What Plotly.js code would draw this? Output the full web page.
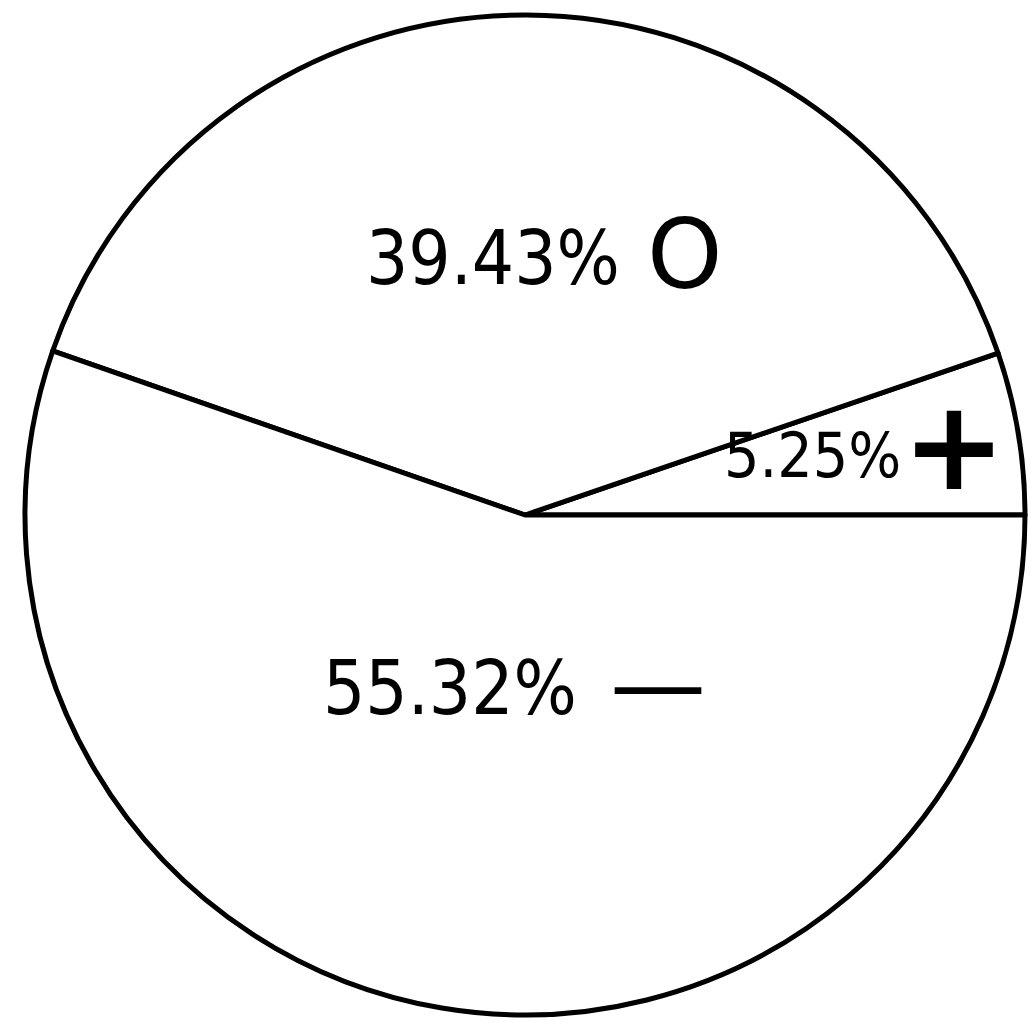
<!DOCTYPE html>
<html>
<head>
<meta charset="utf-8">
<script src="https://cdn.plot.ly/plotly-3.0.1.min.js"></script>
<style>
  body { margin: 0; background: #fff; }
  #chart { width: 1035px; height: 1023px; }
</style>
</head>
<body>
<div id="chart"></div>
<script>
// slices go counterclockwise starting at 3 o'clock
var signs = ['+', 'O', '—'];
var shares = [5.25, 39.43, 55.32];

// where the hand lettering sits (paper coords), and sizes
var pctPos = [[0.787, 0.559], [0.468, 0.757], [0.425, 0.327]];
var signPos = [[0.929, 0.569], [0.660, 0.760], [0.633, 0.331]];
var pctSize = [62, 74, 74];
var signSize = [124, 96, 96];

var trace = {
  type: 'pie',
  values: shares,
  labels: signs,
  sort: false,
  direction: 'counterclockwise',
  rotation: 90 - shares[0] * 3.6,
  textinfo: 'none',
  marker: {
    colors: ['#fff', '#fff', '#fff'],
    line: { color: '#000', width: 5 }
  },
  hoverinfo: 'skip',
  showlegend: false
};

var annotations = [];
shares.forEach((s, i) => {
  annotations.push({
    xref: 'paper', yref: 'paper',
    x: pctPos[i][0], y: pctPos[i][1],
    xanchor: 'center', yanchor: 'middle',
    text: s.toFixed(2) + '%',
    showarrow: false,
    font: { family: 'Liberation Sans Narrow, DejaVu Sans Condensed', size: pctSize[i], color: '#000' }
  });
  annotations.push({
    xref: 'paper', yref: 'paper',
    x: signPos[i][0], y: signPos[i][1],
    xanchor: 'center', yanchor: 'middle',
    text: signs[i] == '+' ? '<b>+</b>' : signs[i],
    showarrow: false,
    font: { family: 'DejaVu Sans', size: signSize[i], color: '#000' }
  });
});

var layout = {
  width: 1035,
  height: 1023,
  margin: { l: 25, r: 10, t: 15, b: 8 },
  paper_bgcolor: '#fff',
  plot_bgcolor: '#fff',
  annotations: annotations
};

Plotly.newPlot('chart', [trace], layout, { staticPlot: true });
</script>
</body>
</html>
